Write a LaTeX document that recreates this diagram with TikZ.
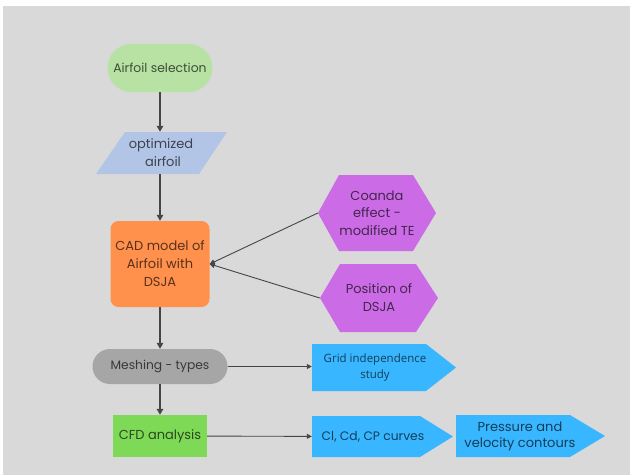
\documentclass[tikz,border=0pt]{standalone}
\usepackage{fontspec}
\setmainfont{Poppins}
\newfontfamily\opensans{Open Sans}
\usetikzlibrary{shapes.misc,arrows.meta}
\definecolor{bgc}{HTML}{D9D9D9}
\definecolor{selc}{HTML}{B8E2A4}
\definecolor{optc}{HTML}{B3C5E6}
\definecolor{orangec}{HTML}{FF914D}
\definecolor{grayc}{HTML}{A6A6A6}
\definecolor{cfdc}{HTML}{7ED957}
\definecolor{purp}{HTML}{CB6CE6}
\definecolor{bluec}{HTML}{38B6FF}
\definecolor{arrc}{HTML}{454545}
\begin{document}
\begin{tikzpicture}[x=1pt,y=-1pt,
  txt/.style={font=\fontsize{13}{18}\selectfont, text=black, text opacity=0.66, align=center, inner sep=0pt},
  arr/.style={draw=arrc, line width=1.6pt, -{Triangle[length=6pt,width=6.5pt]}},
  harr/.style={draw=arrc, line width=0.9pt, -{Triangle[length=5pt,width=5pt]}}]
\useasboundingbox (0,0) rectangle (630,475);
\fill[white] (0,0) rectangle (630,475);
\fill[bgc] (3,6) rectangle (630,475);
% shapes drawn under the text nodes
\fill[optc] (125,132) -- (227,132) -- (199,174) -- (96,174) -- cycle;
\fill[purp] (318,213) -- (339,175) -- (413,175) -- (436,213) -- (413,251) -- (339,251) -- cycle;
\fill[purp] (320,298) -- (340,264) -- (416,264) -- (438,298) -- (416,332) -- (340,332) -- cycle;
\fill[bluec] (312,344) -- (426,344) -- (456,367.5) -- (426,391) -- (312,391) -- cycle;
\fill[bluec] (312,416) -- (420,416) -- (453,436.5) -- (420,457) -- (312,457) -- cycle;
\fill[bluec] (456,415) -- (570,415) -- (605,436) -- (570,457) -- (456,457) -- cycle;
% nodes
\node[txt, font=\fontsize{12.4}{18}\selectfont, fill=selc, rounded rectangle, minimum width=105pt, minimum height=48pt] (sel) at (160,68) {Airfoil selection};
\node[txt, minimum width=80pt, minimum height=42pt] (opt) at (160,153) {\hspace*{2pt}optimized\\\hspace*{6pt}airfoil};
\node[txt, fill=orangec, rounded corners=8pt, minimum width=99pt, minimum height=86pt] (cad) at (160,264) {CAD model of\\Airfoil with\\DSJA};
\node[txt, font=\fontsize{12.3}{18}\selectfont, fill=grayc, rounded rectangle, minimum width=135pt, minimum height=35pt] (mesh) at (160,366.5) {Meshing - types};
\node[txt, fill=cfdc, minimum width=94pt, minimum height=42pt] (cfd) at (160,436) {CFD analysis};
\node[txt, font=\fontsize{13}{17.5}\selectfont, minimum width=118pt, minimum height=76pt] (coanda) at (377,213) {Coanda\\effect -\\modified TE};
\node[txt, minimum width=118pt, minimum height=68pt] (pos) at (379,298) {Position of\\DSJA};
\node[txt, font=\opensans\fontsize{11.5}{16}\selectfont, minimum width=126pt, minimum height=47pt] (grid) at (375,367.5) {Grid independence\\study};
\node[txt, font=\fontsize{12.3}{16}\selectfont, minimum width=122pt, minimum height=41pt] (cl) at (373,436.5) {Cl, Cd, CP curves};
\node[txt, font=\fontsize{13}{16}\selectfont, minimum width=128pt, minimum height=42pt] (pres) at (520,436) {Pressure and\\velocity contours};
% connectors
\draw[arr] (sel) -- (opt);
\draw[arr] (opt) -- (cad);
\draw[arr] (cad) -- (mesh);
\draw[arr] (mesh) -- (cfd);
\draw[harr] (mesh.east) -- (mesh.east -| grid.west);
\draw[harr] (cfd) -- (cl);
\draw[harr] (coanda.west) -- (cad.east);
\draw[harr] (pos.west) -- (cad.east);
\end{tikzpicture}
\end{document}
